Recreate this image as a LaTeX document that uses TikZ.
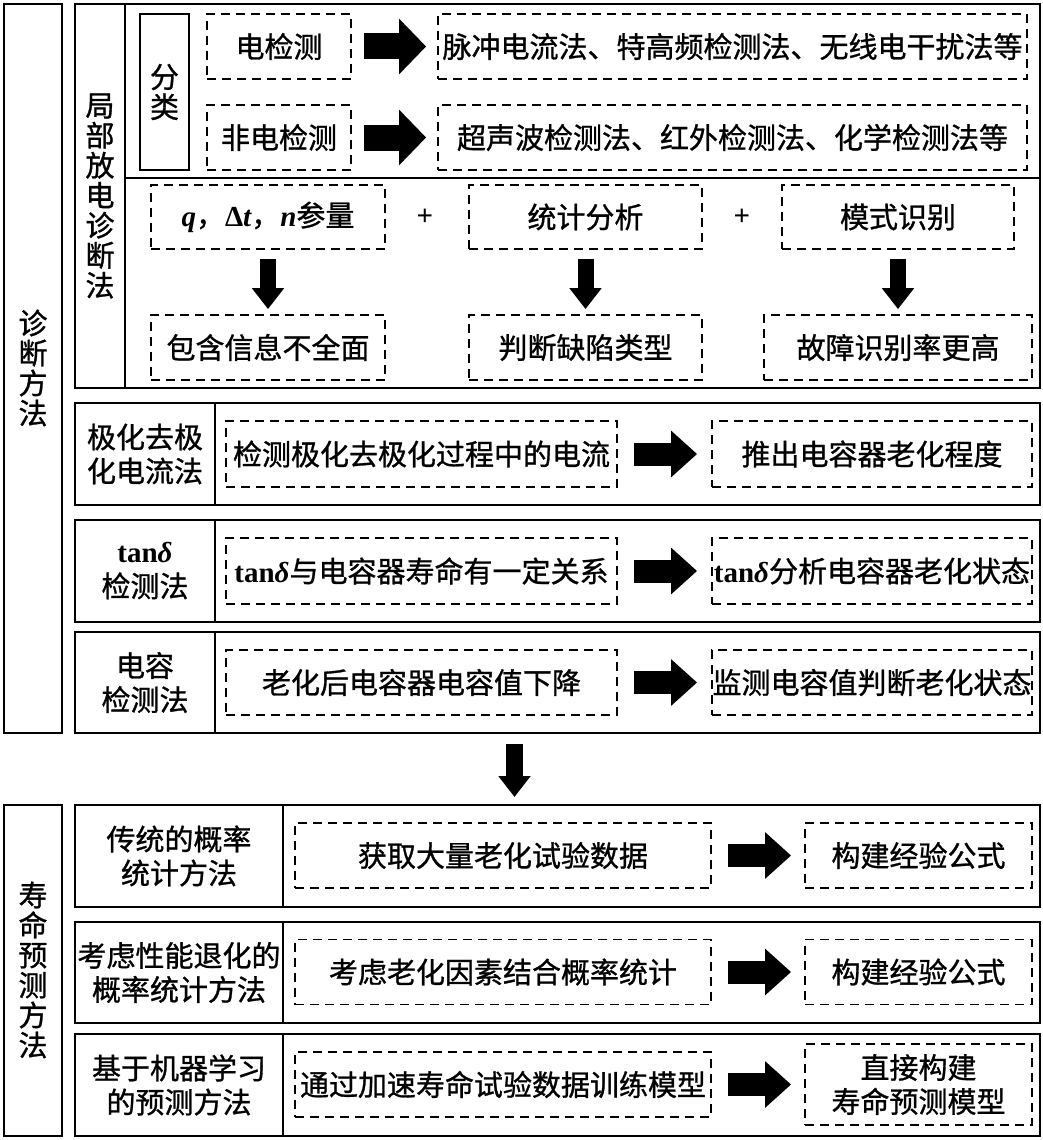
\documentclass[tikz,border=0pt]{standalone}
\usepackage{fontspec}
\setmainfont{Noto Sans CJK SC}[FakeBold=1]
\newfontfamily\latin{Liberation Serif}
\usepackage{tikz}
\usetikzlibrary{arrows.meta,positioning}

\newcommand{\tand}{{\latin\bfseries tan\itshape δ}}
\newcommand{\qvar}[1]{{\latin\bfseries\itshape #1}}

\begin{document}
\begin{tikzpicture}[x=1pt, y=-1pt,
    font=\fontsize{29}{34}\selectfont,
    frame/.style={draw, line width=2.6pt},
    dbox/.style={draw, line width=1.8pt, dash pattern=on 9pt off 6pt, inner sep=0pt, align=center, minimum height=65pt},
    vtext/.style={align=center, inner sep=0pt, font=\fontsize{29}{30}\selectfont},
    lbl/.style={align=center, inner sep=0pt},
    bigarrow/.style={line width=26pt, -{Triangle[length=27pt,width=54pt]}},
    midarrow/.style={line width=23pt, -{Triangle[length=26pt,width=45pt]}},
    downarrow/.style={line width=16pt, -{Triangle[length=21pt,width=31pt]}}]
    \useasboundingbox (0,0) rectangle (1042,1140);

    % diagnosis methods
    \draw[frame] (4,4) rectangle (62,733);
    \node[vtext] (diag) at (33,368) {诊\\断\\方\\法};

    % partial discharge
    \draw[frame] (75,4) rectangle (1040,388);
    \draw[frame] (125,4) -- (125,388);
    \draw[frame] (125,178) -- (1040,178);
    \node[vtext] (pd) at (100,196) {局\\部\\放\\电\\诊\\断\\法};
    \node[draw, line width=2pt, vtext, minimum width=49pt, minimum height=156pt] (kind) at (164.5,92) {分\\类};

    \node[dbox, minimum width=144pt] (elec) at (279,46.5) {电检测};
    \node[dbox, minimum width=144pt] (nonelec) at (279,137.5) {非电检测};
    \node[dbox, minimum width=589pt] (elecm) at (732.5,46.5) {脉冲电流法、特高频检测法、无线电干扰法等};
    \node[dbox, minimum width=589pt] (nonelecm) at (732.5,137.5) {超声波检测法、红外检测法、化学检测法等};
    \draw[bigarrow, shorten <=12pt, shorten >=11pt] (elec) -- (elecm);
    \draw[bigarrow, shorten <=12pt, shorten >=11pt] (nonelec) -- (nonelecm);

    \node[dbox, minimum width=234pt, minimum height=64pt] (qpar) at (268,217) {\qvar{q}，{\latin\bfseries Δ}\qvar{t}，\qvar{n}参量};
    \node[dbox, minimum width=233pt, minimum height=64pt] (stat) at (585.5,217) {统计分析};
    \node[dbox, minimum width=232pt, minimum height=64pt] (patt) at (898,217) {模式识别};
    \node[lbl] (plusa) at (425,217) {\latin\bfseries +};
    \node[lbl] (plusb) at (742,217) {\latin\bfseries +};

    \node[dbox, minimum width=234pt] (info) at (268,347.5) {包含信息不全面};
    \node[dbox, minimum width=233pt] (defect) at (585.5,347.5) {判断缺陷类型};
    \node[dbox, minimum width=268pt] (fault) at (898,347.5) {故障识别率更高};
    \draw[downarrow, shorten <=9pt, shorten >=5pt] (qpar) -- (info);
    \draw[downarrow, shorten <=9pt, shorten >=5pt] (stat) -- (defect);
    \draw[downarrow, shorten <=9pt, shorten >=5pt] (patt) -- (fault);

    % polarization / depolarization current
    \draw[frame] (75,403) rectangle (1040,505);
    \draw[frame] (215,403) -- (215,505);
    \node[lbl] (pdc) at (145,454) {极化去极\\化电流法};
    \node[dbox, minimum width=391pt, minimum height=66pt] (pdcin) at (421.5,454) {检测极化去极化过程中的电流};
    \node[dbox, minimum width=320pt, minimum height=66pt] (pdcout) at (872,454) {推出电容器老化程度};
    \draw[midarrow, shorten <=16pt, shorten >=14pt] (pdcin) -- (pdcout);

    % tan delta
    \draw[frame] (75,520) rectangle (1040,622);
    \draw[frame] (215,520) -- (215,622);
    \node[lbl] (tan) at (145,571) {\tand\\检测法};
    \node[dbox, minimum width=391pt, minimum height=66pt] (tanin) at (421.5,571) {\tand 与电容器寿命有一定关系};
    \node[dbox, minimum width=320pt, minimum height=66pt] (tanout) at (872,571) {\tand 分析电容器老化状态};
    \draw[midarrow, shorten <=16pt, shorten >=14pt] (tanin) -- (tanout);

    % capacitance
    \draw[frame] (75,632) rectangle (1040,733);
    \draw[frame] (215,632) -- (215,733);
    \node[lbl] (cap) at (145,682.5) {电容\\检测法};
    \node[dbox, minimum width=391pt] (capin) at (421.5,682.5) {老化后电容器电容值下降};
    \node[dbox, minimum width=320pt] (capout) at (872,682.5) {监测电容值判断老化状态};
    \draw[midarrow, shorten <=16pt, shorten >=14pt] (capin) -- (capout);

    \coordinate (midtop) at (514.5,744);
    \coordinate (midtip) at (514.5,797);
    \draw[downarrow, line width=17pt] (midtop) -- (midtip);

    % life prediction methods
    \draw[frame] (4,805) rectangle (62,1136);
    \node[vtext] (life) at (33,970) {寿\\命\\预\\测\\方\\法};

    \draw[frame] (75,805) rectangle (1040,907);
    \draw[frame] (283,805) -- (283,907);
    \node[lbl] (trad) at (179,856) {传统的概率\\统计方法};
    \node[dbox, minimum width=416pt] (tradin) at (503,855.5) {获取大量老化试验数据};
    \node[dbox, minimum width=227pt] (tradout) at (918.5,855.5) {构建经验公式};
    \draw[midarrow, shorten <=16pt, shorten >=13pt] (tradin) -- (tradout);

    \draw[frame] (75,922) rectangle (1040,1023);
    \draw[frame] (283,922) -- (283,1023);
    \node[lbl] (deg) at (179,972.5) {考虑性能退化的\\概率统计方法};
    \node[dbox, minimum width=416pt] (degin) at (503,972) {考虑老化因素结合概率统计};
    \node[dbox, minimum width=227pt] (degout) at (918.5,972) {构建经验公式};
    \draw[midarrow, shorten <=16pt, shorten >=13pt] (degin) -- (degout);

    \draw[frame] (75,1034) rectangle (1040,1136);
    \draw[frame] (283,1034) -- (283,1136);
    \node[lbl] (ml) at (179,1085) {基于机器学习\\的预测方法};
    \node[dbox, minimum width=416pt] (mlin) at (503,1084.5) {通过加速寿命试验数据训练模型};
    \node[dbox, minimum width=227pt, minimum height=81pt] (mlout) at (918.5,1084.5) {直接构建\\寿命预测模型};
    \draw[midarrow, shorten <=16pt, shorten >=13pt] (mlin) -- (mlout);
\end{tikzpicture}
\end{document}
